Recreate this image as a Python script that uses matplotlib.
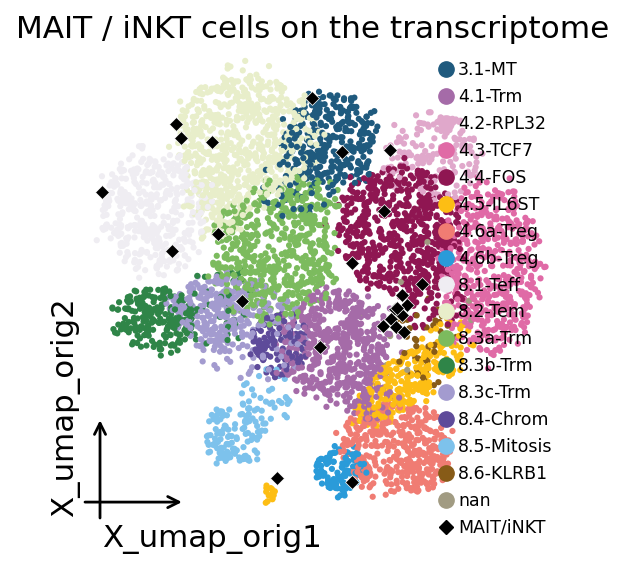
import numpy as np
import matplotlib
matplotlib.use("Agg")
import matplotlib.pyplot as plt
from matplotlib.lines import Line2D

# cluster names and colours (legend order)
clusters = ["3.1-MT", "4.1-Trm", "4.2-RPL32", "4.3-TCF7", "4.4-FOS", "4.5-IL6ST",
            "4.6a-Treg", "4.6b-Treg", "8.1-Teff", "8.2-Tem", "8.3a-Trm", "8.3b-Trm",
            "8.3c-Trm", "8.4-Chrom", "8.5-Mitosis", "8.6-KLRB1", "nan"]
colors = ["#1f5a7e", "#a56ba8", "#e0a8cb", "#e06aa6", "#8f1652", "#fdbe14",
          "#f07c73", "#2a9bd9", "#efedf2", "#e8eeca", "#7cbb5e", "#2f8548",
          "#a39bcf", "#5e4b9a", "#7dc2ec", "#875b17", "#a19b82"]

# umap blobs: cluster, centre, radii, number of cells
blob_cluster = ["8.1-Teff", "8.2-Tem", "8.2-Tem", "3.1-MT", "3.1-MT",
                "8.3a-Trm", "8.3a-Trm", "8.3b-Trm", "8.3b-Trm", "8.3c-Trm", "8.3c-Trm",
                "8.4-Chrom", "4.1-Trm", "4.1-Trm", "4.4-FOS", "4.4-FOS",
                "4.2-RPL32", "4.3-TCF7", "4.5-IL6ST", "4.5-IL6ST", "4.5-IL6ST",
                "4.6a-Treg", "4.6b-Treg", "8.5-Mitosis", "8.5-Mitosis",
                "8.6-KLRB1", "nan"]
blob_x = [7.0, 16.0, 13.0, 24.5, 21.5, 19.0, 22.5, 7.0, 13.5, 13.0, 16.5,
          19.5, 25.0, 28.5, 31.5, 35.0, 35.0, 40.5, 31.5, 18.5, 36.5,
          31.0, 25.5, 15.0, 18.0, 34.0, 33.0]
blob_y = [30.8, 37.8, 30.8, 37.8, 33.8, 26.3, 31.8, 19.8, 21.8, 20.8, 18.8,
          17.3, 17.3, 11.8, 28.8, 21.5, 36.3, 24.8, 13.3, 2.3, 17.0,
          6.8, 4.8, 8.3, 11.8, 17.3, 20.0]
blob_rx = [5.3, 7.0, 3.0, 4.5, 4.0, 6.0, 3.0, 4.0, 3.5, 4.5, 5.0,
           3.0, 5.5, 2.5, 6.0, 3.5, 5.0, 5.0, 5.5, 0.6, 2.5,
           5.5, 2.5, 3.0, 3.0, 3.0, 6.0]
blob_ry = [6.0, 6.5, 3.0, 4.8, 3.5, 6.5, 2.5, 3.2, 4.0, 3.5, 5.0,
           3.0, 5.5, 2.0, 6.5, 3.0, 4.5, 8.5, 2.5, 1.0, 3.0,
           4.5, 2.5, 3.0, 3.0, 4.0, 8.0]
blob_n = [380, 650, 100, 280, 60, 480, 80, 220, 40, 250, 100,
          120, 480, 60, 560, 60, 150, 520, 230, 15, 40,
          420, 110, 110, 40, 50, 10]
blob_angle = [0, 0, 0, 0, 0, 0, 0, 0, 0, 0, 0,
              0, 0, 0, 0, 0, 0, 0, 40, 0, 0,
              0, 0, 0, 0, 0, 0]

# MAIT / iNKT cells
mait_x = [22.7, 9.1, 9.6, 12.7, 25.7, 30.5, 1.7, 29.9, 13.3, 8.7, 26.7,
          33.7, 15.7, 31.7, 32.2, 31.0, 31.7, 30.6, 29.8, 31.1, 31.9,
          23.5, 19.2, 26.7, 31.2]
mait_y = [42.0, 39.4, 38.0, 37.6, 36.6, 36.8, 32.6, 30.7, 28.4, 26.7, 25.5,
          23.4, 21.7, 22.3, 21.3, 20.9, 20.3, 19.9, 19.2, 19.1, 18.6,
          17.1, 4.0, 3.6, 21.0]

rng = np.random.default_rng(7)
xs, ys, cs = [], [], []
for cl, cx, cy, rx, ry, n, ang in zip(blob_cluster, blob_x, blob_y, blob_rx,
                                      blob_ry, blob_n, blob_angle):
    r = np.sqrt(rng.uniform(0, 1, n))
    t = rng.uniform(0, 2 * np.pi, n)
    dx = r * np.cos(t) * rx + rng.normal(0, 0.09 * rx, n)
    dy = r * np.sin(t) * ry + rng.normal(0, 0.09 * ry, n)
    a = np.deg2rad(ang)
    xs.append(cx + dx * np.cos(a) - dy * np.sin(a))
    ys.append(cy + dx * np.sin(a) + dy * np.cos(a))
    cs += [colors[clusters.index(cl)]] * n
xs = np.concatenate(xs)
ys = np.concatenate(ys)
cs = np.array(cs)
order = rng.permutation(len(xs))

fig = plt.figure(figsize=(6.25, 5.69), dpi=100)
ax = fig.add_axes([85 / 625, 51 / 569, 475 / 625, 468 / 569])
ax.scatter(xs[order], ys[order], c=cs[order], s=20, linewidths=0)
ax.scatter(mait_x, mait_y, c="black", marker="D", s=50,
           edgecolors="white", linewidths=0.5)
ax.set_xlim(0, 47.5)
ax.set_ylim(0, 46.8)
ax.axis("off")

# small arrows in the corner
arr = dict(arrowstyle="->", lw=2, color="black", mutation_scale=20,
           shrinkA=0, shrinkB=0)
ax.annotate("", xy=(0.204, 0.034), xytext=(0, 0.034), xycoords="axes fraction",
            arrowprops=arr, annotation_clip=False)
ax.annotate("", xy=(0.0316, 0.209), xytext=(0.0316, 0), xycoords="axes fraction",
            arrowprops=arr, annotation_clip=False)

fig.text(102 / 625, 1 - 546.5 / 569, "X_umap_orig1", fontsize=22.2,
         ha="left", va="baseline")
fig.text(73 / 625, 1 - 517 / 569, "X_umap_orig2", fontsize=22.2, rotation=90,
         rotation_mode="anchor", ha="left", va="baseline")
fig.text(312.5 / 625, 1 - 38.5 / 569, "MAIT / iNKT cells on the transcriptome",
         fontsize=22.4, ha="center", va="baseline")

handles = [Line2D([], [], ls="", marker="o", ms=11, color=c, label=l)
           for l, c in zip(clusters, colors)]
handles.append(Line2D([], [], ls="", marker="D", ms=7, color="black",
                      label="MAIT/iNKT"))
fig.legend(handles=handles, loc="upper left", bbox_to_anchor=(439 / 625, 1 - 61 / 569),
           frameon=False, fontsize=12.5, borderpad=0, handlelength=0.8,
           handletextpad=0.3, labelspacing=0.515, borderaxespad=0)

fig.savefig("out.png", dpi=100)
